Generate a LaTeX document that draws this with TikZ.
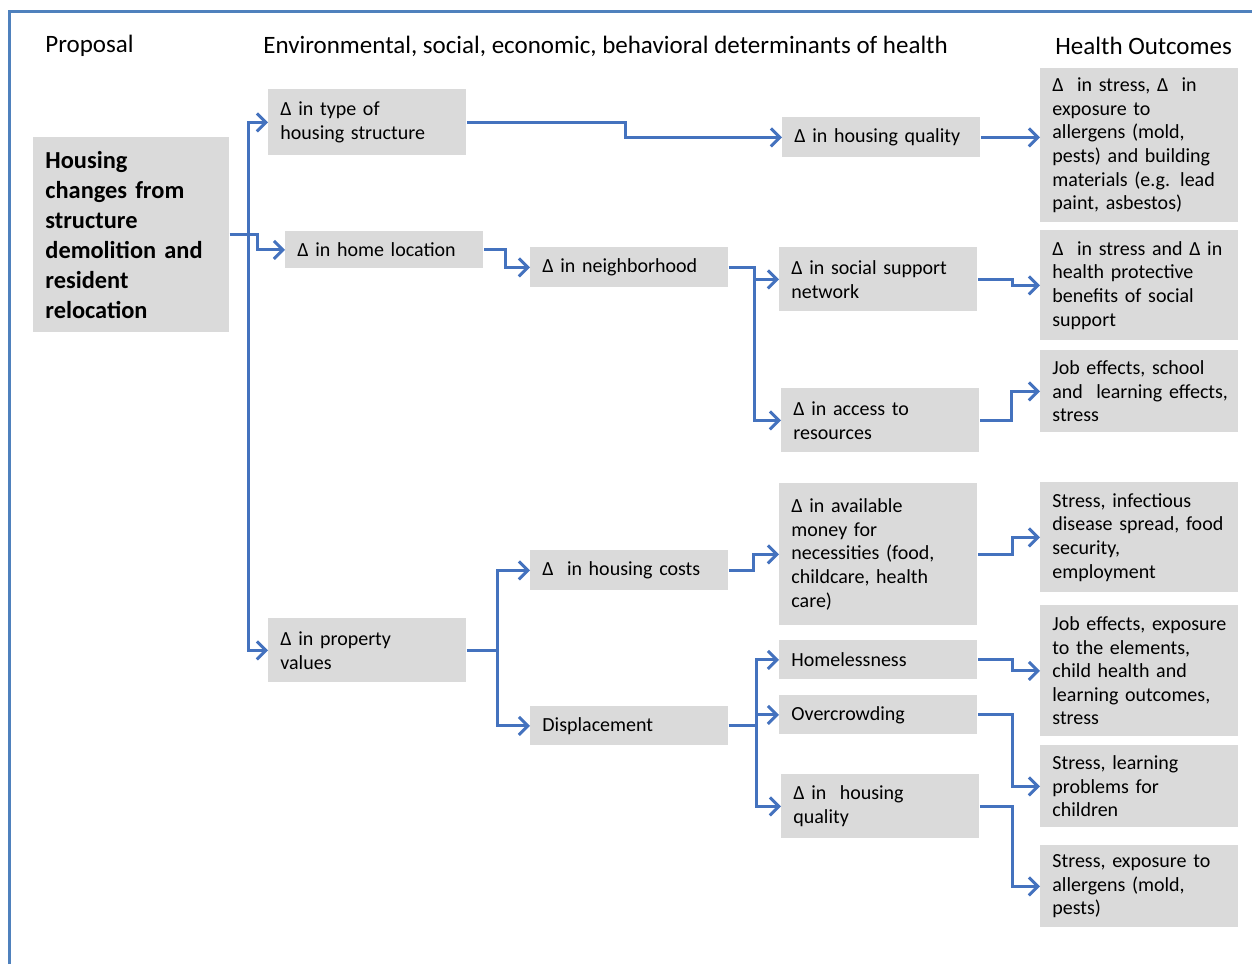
\documentclass[tikz,border=0pt]{standalone}
\usepackage{fontspec}
\setmainfont{Carlito}
\usetikzlibrary{arrows.meta}

\definecolor{linkblue}{RGB}{68,114,190}
\definecolor{framblue}{RGB}{79,129,189}
\definecolor{boxgray}{RGB}{218,218,218}

\tikzset{
  cell/.style = {fill=boxgray, anchor=north west, align=left,
    inner xsep=6pt, inner ysep=2pt, text width=#1,
    font=\fontsize{10}{11.8}\selectfont},
  cell/.default = 87pt,
  head/.style = {anchor=west, inner sep=0pt, font=\fontsize{12.5}{14}\selectfont},
  link/.style = {draw=linkblue, line width=1.5pt,
    -{Straight Barb[length=4.5pt,width=9pt,line width=1.5pt]}}
}

\begin{document}
\begin{tikzpicture}[x=0.5pt, y=-0.5pt]
  \useasboundingbox (0,0) rectangle (1252,964);
  \draw[framblue, line width=1.5pt] (9,964) -- (9,11) -- (1252,11);

  % column headings
  \node[head] (hprop) at (45,46) {Proposal};
  \node[head] (hdet) at (263,46) {Environmental, social, economic, behavioral determinants of health};
  \node[head] (hout) at (1055,46) {Health Outcomes};

  % proposal
  \node[cell=86pt, minimum height=97.5pt,
    font=\bfseries\fontsize{12.2}{15}\selectfont] (main) at (33,137)
    {Housing\\changes from\\structure\\demolition and\\resident\\relocation};

  % first determinants
  \node[cell, minimum height=33pt] (type) at (268,89) {Δ in type of\\housing structure};
  \node[cell, minimum height=18.5pt] (home) at (285,231) {Δ in home location};
  \node[cell, minimum height=32pt] (prop) at (268,618) {Δ in property\\values};

  % second determinants
  \node[cell, minimum height=20pt] (neigh) at (530,247) {Δ in neighborhood};
  \node[cell, minimum height=20pt] (costs) at (530,550) {Δ~ in housing costs};
  \node[cell, minimum height=19.5pt] (disp) at (530,706) {Displacement};

  % third determinants
  \node[cell, minimum height=20pt] (qual) at (782,117) {Δ in housing quality};
  \node[cell, minimum height=32pt] (social) at (779,247) {Δ in social support\\network};
  \node[cell, minimum height=32pt] (access) at (781,388) {Δ in access to\\resources};
  \node[cell, minimum height=71pt] (money) at (779,483)
    {Δ in available\\money for\\necessities (food,\\childcare, health\\care)};
  \node[cell, minimum height=19.5pt] (homeless) at (779,640) {Homelessness};
  \node[cell, minimum height=19.5pt] (crowd) at (779,695) {Overcrowding};
  \node[cell, minimum height=32pt] (qualb) at (781,774) {Δ in~ housing\\quality};

  % health outcomes
  \node[cell, minimum height=77pt] (outa) at (1040,68)
    {Δ~ in stress, Δ~ in\\exposure to\\allergens (mold,\\pests) and building\\materials (e.g. lead\\paint, asbestos)};
  \node[cell, minimum height=55pt] (outb) at (1040,230)
    {Δ~ in stress and Δ in\\health protective\\benefits of social\\support};
  \node[cell, minimum height=41pt] (outc) at (1040,350)
    {Job effects, school\\\mbox{and\ \ learning effects,}\\stress};
  \node[cell, minimum height=55pt] (outd) at (1040,482)
    {Stress, infectious\\disease spread, food\\security,\\employment};
  \node[cell, minimum height=65.5pt] (oute) at (1040,605)
    {Job effects, exposure\\to the elements,\\child health and\\learning outcomes,\\stress};
  \node[cell, minimum height=41pt] (outf) at (1040,745)
    {Stress, learning\\problems for\\children};
  \node[cell, minimum height=41pt] (outg) at (1040,845)
    {Stress, exposure to\\allergens (mold,\\pests)};

  % connectors
  \foreach \dst in {type,prop}
    \draw[link] (main.east) -- ++(19,0) |- (\dst.west);
  \draw[link] (main.east) -- ++(28,0) |- (home.west);
  \draw[link] (type.east) -- ++(159,0) |- (qual.west);
  \draw[link] (qual.east) -- (outa.west |- qual.east);
  \draw[link] (home.east) -- ++(22,0) |- (neigh.west);
  \foreach \dst in {social,access}
    \draw[link] (neigh.east) -- ++(26,0) |- (\dst.west);
  \foreach \dst in {costs,disp}
    \draw[link] (prop.east) -- ++(31,0) |- (\dst.west);
  \draw[link] (costs.east) -- ++(25,0) |- (money.west);
  \foreach \dst in {homeless,crowd,qualb}
    \draw[link] (disp.east) -- ++(28,0) |- (\dst.west);
  \draw[link] (social.east) -- ++(35,0) |- (outb.west);
  \draw[link] (access.east) -- ++(32,0) |- (outc.west);
  \draw[link] (money.east) -- ++(35,0) |- (outd.west);
  \draw[link] (homeless.east) -- ++(35,0) |- (oute.west);
  \draw[link] (crowd.east) -- ++(35,0) |- (outf.west);
  \draw[link] (qualb.east) -- ++(33,0) |- (outg.west);
\end{tikzpicture}
\end{document}
